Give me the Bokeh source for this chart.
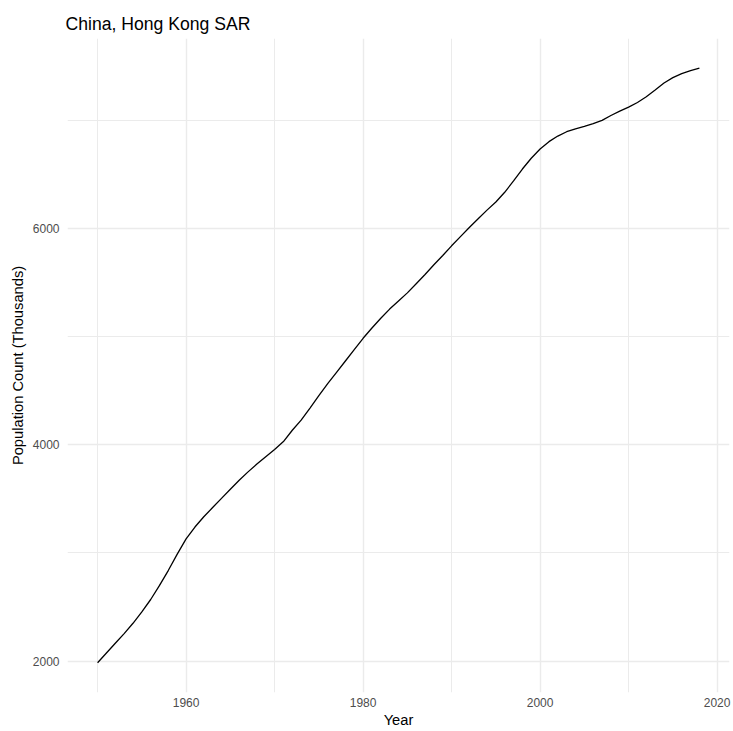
from bokeh.plotting import figure
from bokeh.models import FixedTicker, Range1d
from bokeh.embed import file_html
from bokeh.resources import INLINE

# Data (population, thousands)
years = list(range(1950, 2019))
population = [
    1985, 2075, 2165, 2255, 2350, 2455, 2570, 2700, 2840, 2990,  # 1950-1959
    3130, 3240, 3335, 3420, 3505, 3590, 3672, 3750, 3822, 3890,  # 1960-1969
    3957, 4030, 4135, 4228, 4340, 4455, 4565, 4670, 4775, 4880,  # 1970-1979
    4985, 5080, 5170, 5255, 5330, 5405, 5490, 5575, 5665, 5750,  # 1980-1989
    5840, 5925, 6010, 6090, 6170, 6245, 6335, 6440, 6550, 6650,  # 1990-1999
    6735, 6803, 6855, 6895, 6922, 6945, 6970, 7000, 7045, 7085,  # 2000-2009
    7122, 7165, 7218, 7280, 7345, 7395, 7432, 7460, 7482,        # 2010-2018
]

x_major = [1960, 1980, 2000, 2020]
x_minor = [1950, 1970, 1990, 2010]
y_major = [2000, 4000, 6000]
y_minor = [3000, 5000, 7000]

title_text = "China, Hong Kong SAR"
x_label = "Year"
y_label = "Population Count (Thousands)"

FONT = "Liberation Sans"

xmin, xmax = min(years), max(years)
ymin, ymax = min(population), max(population)
xpad = (xmax - xmin) * 0.05
ypad = (ymax - ymin) * 0.05

p = figure(
    width=733, height=731,
    output_backend="svg", toolbar_location=None,
    x_range=Range1d(xmin - xpad, xmax + xpad),
    y_range=Range1d(ymin - ypad, ymax + ypad),
    title=title_text,
    min_border_left=67, min_border_right=4, min_border_top=38, min_border_bottom=39,
)
p.outline_line_color = None
p.background_fill_color = "white"
p.border_fill_color = "white"

p.title.text_font = FONT
p.title.text_font_size = "17.6px"
p.title.text_font_style = "normal"
p.title.text_color = "black"
p.title.align = "left"
p.title.standoff = 10
p.title.offset = -2

p.xaxis.ticker = FixedTicker(ticks=x_major, minor_ticks=x_minor)
p.yaxis.ticker = FixedTicker(ticks=y_major, minor_ticks=y_minor)

for ax in (p.xaxis[0], p.yaxis[0]):
    ax.axis_line_color = None
    ax.major_tick_line_color = None
    ax.minor_tick_line_color = None
    ax.major_tick_out = 0
    ax.major_tick_in = 0
    ax.minor_tick_out = 0
    ax.minor_tick_in = 0
    ax.major_label_text_font = FONT
    ax.major_label_text_font_size = "12px"
    ax.major_label_text_color = "#4D4D4D"
    ax.axis_label_text_font = FONT
    ax.axis_label_text_font_size = "14.7px"
    ax.axis_label_text_font_style = "normal"
    ax.axis_label_text_color = "black"

p.xaxis.axis_label = x_label
p.yaxis.axis_label = y_label
p.xaxis.major_label_standoff = 5
p.xaxis.axis_label_standoff = 2
p.yaxis.major_label_standoff = 8
p.yaxis.axis_label_standoff = 4

for g in (p.xgrid[0], p.ygrid[0]):
    g.grid_line_color = "#EBEBEB"
    g.grid_line_width = 1.4
    g.minor_grid_line_color = "#EBEBEB"
    g.minor_grid_line_width = 1.0

p.line(years, population, line_color="black", line_width=1.3)

open("out.html", "w").write(file_html(p, INLINE))
